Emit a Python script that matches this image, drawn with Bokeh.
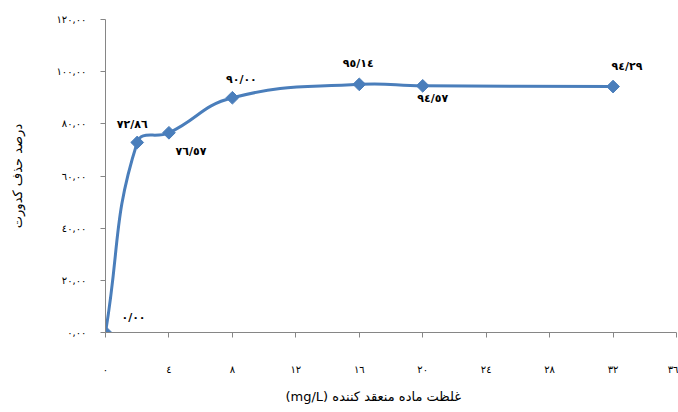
import math
from bokeh.plotting import figure
from bokeh.models import FixedTicker, Title
from bokeh.core.properties import value
from bokeh.embed import file_html
from bokeh.resources import INLINE

# ---- data ----
dose = [0, 2, 4, 8, 16, 20, 32]
removal = [0.00, 72.86, 76.57, 90.00, 95.14, 94.57, 94.29]
x_ticks = [0, 4, 8, 12, 16, 20, 24, 28, 32, 36]
y_ticks = [0, 20, 40, 60, 80, 100, 120]
x_title = "(mg/L) غلظت ماده منعقد کننده"
y_title = "درصد حذف کدورت"

# label placement offsets (screen px)
lab_dx = [28, -5, 22, 9, -1, 10, 14]
lab_dy = [-15, -18, 19, -18, -21, 13, -20]

AR = str.maketrans("0123456789", "٠١٢٣٤٥٦٧٨٩")
def ar(s):
    return s.translate(AR)

FONT = "DejaVu Sans"
BLUE = "#4A7EBB"
GREY = "#868686"

W, H = 678, 412
BL, BR, BT, BB = 105, 2, 19, 79
FW, FH = W - BL - BR, H - BT - BB
XMAX, YMAX = 36, 120

p = figure(width=W, height=H, output_backend="svg", toolbar_location=None,
           x_range=(0, XMAX), y_range=(0, YMAX),
           min_border_left=BL, min_border_right=BR, min_border_top=BT, min_border_bottom=BB)
p.outline_line_color = None
p.xgrid.visible = False
p.ygrid.visible = False
p.background_fill_color = "white"

# smoothed line: bezier segments, tangents scaled by neighbouring segment lengths
sx, sy = FW / XMAX, FH / YMAX
P = [(x * sx, y * sy) for x, y in zip(dose, removal)]
n = len(P)
T = 0.45
def dist(a, b):
    return math.hypot(b[0] - a[0], b[1] - a[1])
out_c, in_c = [], []
for i in range(n):
    pa = P[i - 1] if i > 0 else P[i]
    pc = P[i + 1] if i < n - 1 else P[i]
    tx, ty = pc[0] - pa[0], pc[1] - pa[1]
    dp = dist(pa, P[i]); dn = dist(P[i], pc)
    tot = dp + dn
    fo = T * dn / tot
    fi = T * dp / tot
    out_c.append((P[i][0] + fo * tx, P[i][1] + fo * ty))
    in_c.append((P[i][0] - fi * tx, P[i][1] - fi * ty))
x0s, y0s, x1s, y1s, c0x, c0y, c1x, c1y = ([] for _ in range(8))
for i in range(n - 1):
    x0s.append(dose[i]); y0s.append(removal[i])
    x1s.append(dose[i + 1]); y1s.append(removal[i + 1])
    c0x.append(out_c[i][0] / sx); c0y.append(out_c[i][1] / sy)
    c1x.append(in_c[i + 1][0] / sx); c1y.append(in_c[i + 1][1] / sy)
p.bezier(x0=x0s, y0=y0s, x1=x1s, y1=y1s, cx0=c0x, cy0=c0y, cx1=c1x, cy1=c1y,
         line_color=BLUE, line_width=3)

p.scatter(dose, removal, marker="square", size=9, angle=math.pi / 4,
          fill_color=BLUE, line_color=BLUE)

labels = [ar(f"{v:.2f}".replace(".", "/")) for v in removal]
p.text(x=dose, y=removal, text=labels, x_offset=lab_dx, y_offset=lab_dy,
       text_align="center", text_baseline="middle", text_font=value(FONT),
       text_font_size="11px", text_font_style="bold", text_color="black")

for ax in (p.xaxis[0], p.yaxis[0]):
    ax.axis_line_color = GREY
    ax.major_tick_line_color = GREY
    ax.minor_tick_line_color = None
    ax.major_tick_in = 0
    ax.major_tick_out = 5
    ax.major_label_text_font = FONT
    ax.major_label_text_font_size = "10px"
    ax.major_label_text_color = "black"
    ax.axis_label_text_font = FONT
    ax.axis_label_text_font_size = "13px"
    ax.axis_label_text_font_style = "normal"
    ax.axis_label_text_color = "black"

p.xaxis.ticker = FixedTicker(ticks=x_ticks)
p.xaxis.major_label_overrides = {t: ar(str(t)) for t in x_ticks}
p.xaxis.major_label_standoff = 26

# x title as a below-title, placed left of centre like the original
xt = Title(text=x_title, align="left", offset=180, standoff=18,
           text_font=FONT, text_font_size="13px", text_font_style="normal",
           text_color="black")
p.add_layout(xt, "below")

p.yaxis.ticker = FixedTicker(ticks=y_ticks)
p.yaxis.major_label_overrides = {t: ar(f"{t},00") for t in y_ticks}
p.yaxis.major_label_standoff = 14
p.yaxis.axis_label = y_title
p.yaxis.axis_label_standoff = 28

open("out.html", "w").write(file_html(p, INLINE))
